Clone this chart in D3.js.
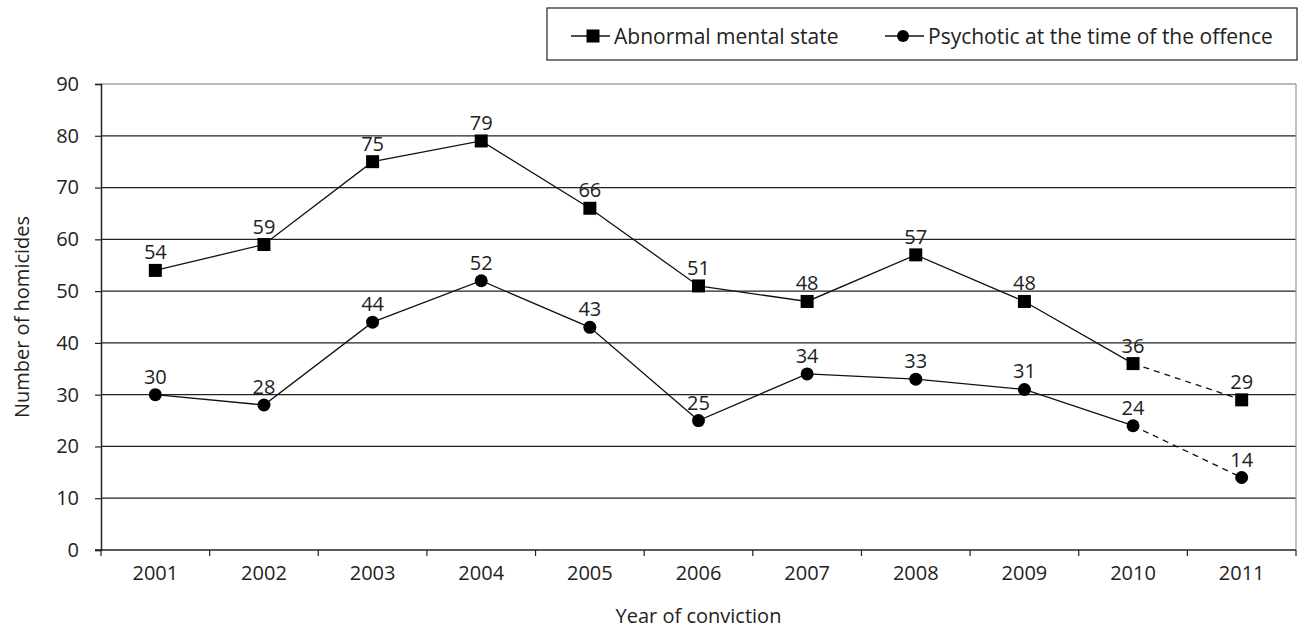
<!DOCTYPE html>
<html><head><meta charset="utf-8">
<script src="https://cdn.jsdelivr.net/npm/d3@7"></script>
<style>body{margin:0;background:#fff}text{font-family:"Open Sans",Lato,sans-serif;fill:#222}</style>
</head><body><svg id="c" width="1301" height="631"></svg>
<script>
const years = ["2001","2002","2003","2004","2005","2006","2007","2008","2009","2010","2011"];
const abnormal = [54,59,75,79,66,51,48,57,48,36,29];
const psychotic = [30,28,44,52,43,25,34,33,31,24,14];
const yTicks = [0,10,20,30,40,50,60,70,80,90];
const seriesNames = ["Abnormal mental state","Psychotic at the time of the offence"];

const FS = 20;
const svg = d3.select("#c");
const m = {l:101, r:1296, t:84, b:550};
const x = d3.scaleBand().domain(years).range([m.l, m.r]);
const y = d3.scaleLinear().domain([0,90]).range([m.b, m.t]);

// gridlines
svg.append("g").selectAll("line").data(yTicks.filter(d=>d>0)).join("line")
  .attr("x1", m.l).attr("x2", m.r).attr("y1", d=>y(d)).attr("y2", d=>y(d))
  .attr("stroke", d=>d===90?"#777":"#222").attr("stroke-width",1.2);
// right border
svg.append("line").attr("x1",m.r).attr("x2",m.r).attr("y1",m.t).attr("y2",m.b).attr("stroke","#999").attr("stroke-width",1.2);

// y axis
const ya = svg.append("g").attr("transform",`translate(${m.l},0)`)
  .call(d3.axisLeft(y).tickValues(yTicks).tickSize(6).tickPadding(16));
ya.select(".domain").attr("stroke","#222").attr("stroke-width",1.5);
ya.selectAll(".tick line").attr("stroke","#222").attr("stroke-width",1.2);
ya.selectAll(".tick text").attr("font-size",FS).attr("font-family","'Open Sans',sans-serif").attr("fill","#222");

// x axis
const xa = svg.append("g").attr("transform",`translate(0,${m.b})`)
  .call(d3.axisBottom(x).tickSize(0).tickPadding(16));
xa.select(".domain").remove();
svg.append("line").attr("x1",m.l-6).attr("x2",m.r).attr("y1",m.b).attr("y2",m.b).attr("stroke","#222").attr("stroke-width",1.5);
svg.append("g").selectAll("line").data(years.concat(["end"])).join("line")
  .attr("x1",(d,i)=>m.l+i*x.step()).attr("x2",(d,i)=>m.l+i*x.step())
  .attr("y1",m.b).attr("y2",m.b+6).attr("stroke","#222").attr("stroke-width",1.2);
xa.selectAll(".tick text").attr("font-size",FS).attr("font-family","'Open Sans',sans-serif").attr("fill","#222");

svg.append("text").attr("x",(m.l+m.r)/2).attr("y",623).attr("text-anchor","middle").attr("font-size",FS).text("Year of conviction");
svg.append("text").attr("transform",`translate(29,${(m.t+m.b)/2}) rotate(-90)`).attr("text-anchor","middle").attr("font-size",FS).text("Number of homicides");

const cx = d => x(d)+x.bandwidth()/2;
function drawSeries(vals, shape){
  const pts = years.map((yr,i)=>[cx(yr), y(vals[i])]);
  svg.append("path").attr("d",d3.line()(pts.slice(0,10))).attr("fill","none").attr("stroke","#111").attr("stroke-width",1.3);
  svg.append("path").attr("d",d3.line()(pts.slice(9))).attr("fill","none").attr("stroke","#111").attr("stroke-width",1.3).attr("stroke-dasharray","6,5");
  const g = svg.append("g");
  if(shape==="square"){
    g.selectAll("rect").data(pts).join("rect").attr("x",d=>d[0]-6.5).attr("y",d=>d[1]-6.5).attr("width",13).attr("height",13).attr("fill","#000");
  } else {
    g.selectAll("circle").data(pts).join("circle").attr("cx",d=>d[0]).attr("cy",d=>d[1]).attr("r",6.5).attr("fill","#000");
  }
  svg.append("g").selectAll("text").data(vals).join("text")
    .attr("x",(d,i)=>pts[i][0]).attr("y",(d,i)=>pts[i][1]-11)
    .attr("text-anchor","middle").attr("font-size",FS).text(d=>d);
}
drawSeries(abnormal,"square");
drawSeries(psychotic,"circle");

// legend
const lg = svg.append("g");
lg.append("rect").attr("x",547).attr("y",8).attr("width",750).attr("height",52).attr("fill","#fff").attr("stroke","#222").attr("stroke-width",1.2);
const items = [{x:571, shape:"square"},{x:885, shape:"circle"}];
items.forEach((it,i)=>{
  lg.append("line").attr("x1",it.x).attr("x2",it.x+39).attr("y1",36).attr("y2",36).attr("stroke","#111").attr("stroke-width",1.5);
  if(it.shape==="square") lg.append("rect").attr("x",it.x+22-6.5).attr("y",29.5).attr("width",13).attr("height",13).attr("fill","#000");
  else lg.append("circle").attr("cx",it.x+18).attr("cy",36).attr("r",6).attr("fill","#000");
  lg.append("text").attr("x",it.x+43).attr("y",44).attr("font-size",21).text(seriesNames[i]);
});
</script></body></html>
